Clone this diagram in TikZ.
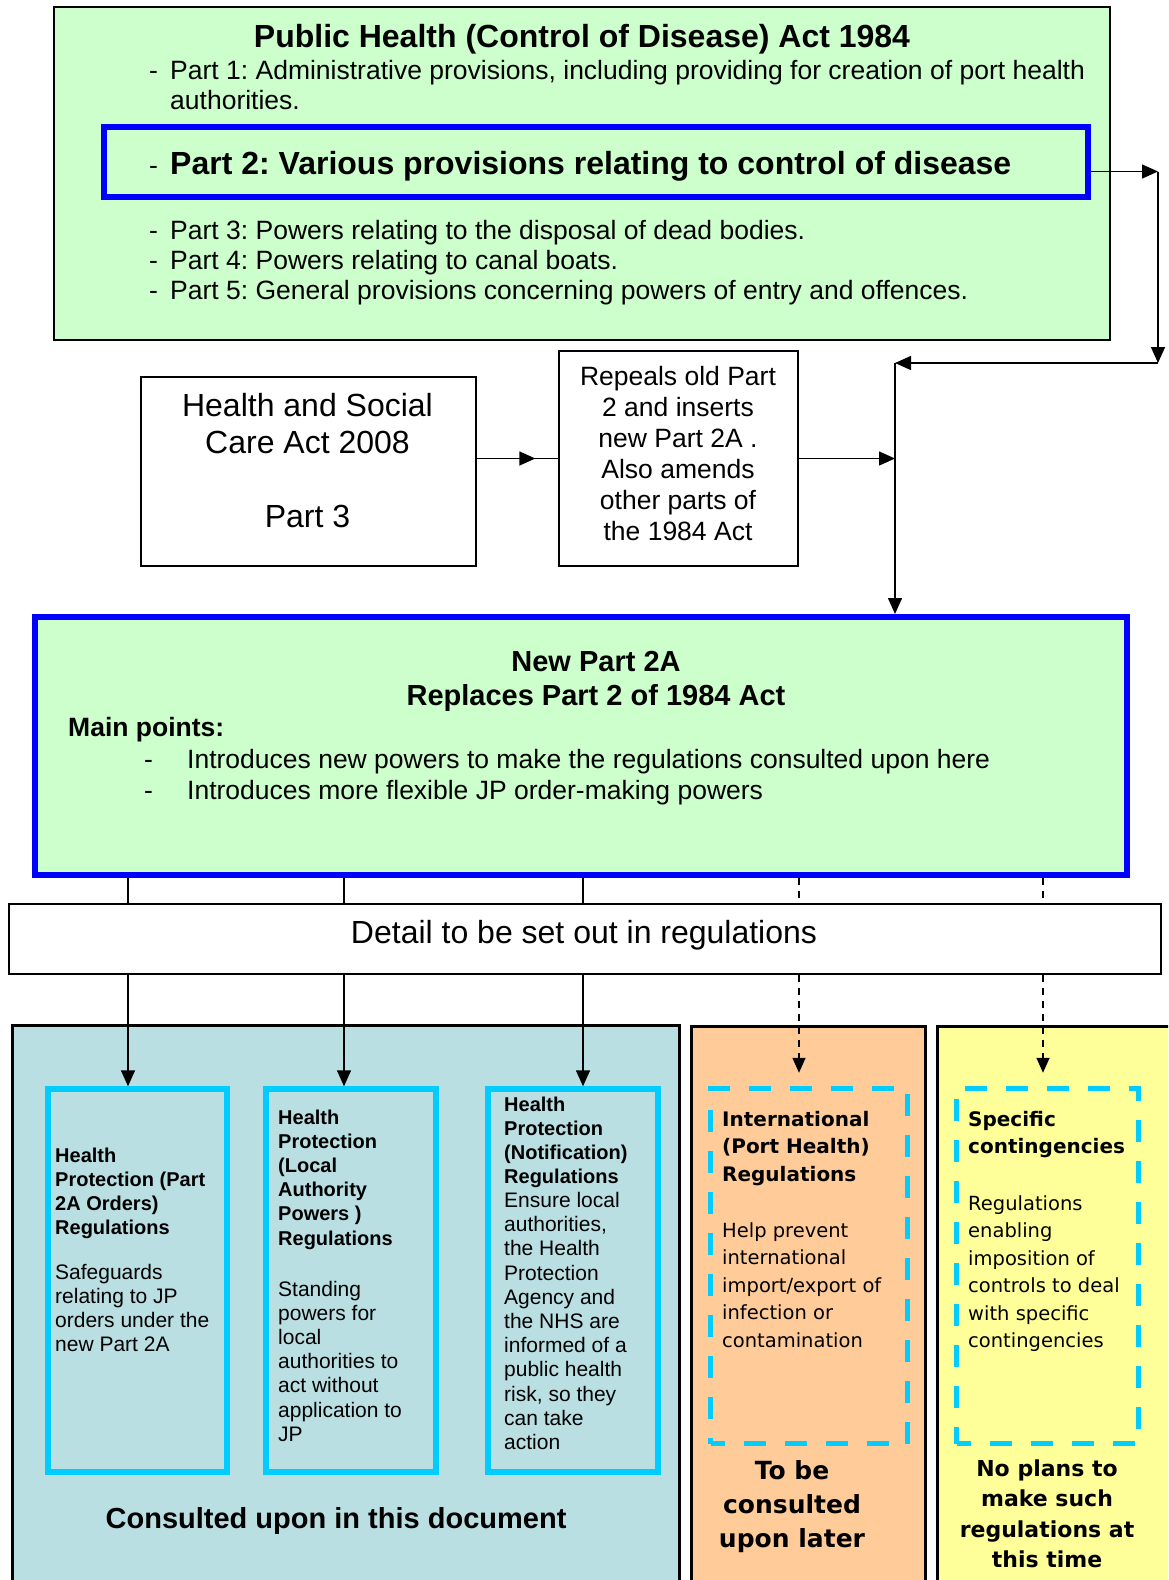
\documentclass[tikz,border=0pt]{standalone}
\usepackage{fontspec}
\setmainfont{Liberation Sans}
\newfontfamily\verdanafont{DejaVu Sans}
\usetikzlibrary{positioning,arrows.meta,calc}
\frenchspacing

\definecolor{actgreen}{RGB}{204,255,204}
\definecolor{partblue}{RGB}{0,0,255}
\definecolor{regcyan}{RGB}{0,204,255}
\definecolor{nowblue}{RGB}{185,223,227}
\definecolor{laterorange}{RGB}{255,204,153}
\definecolor{neveryellow}{RGB}{255,255,153}

\begin{document}
\begin{tikzpicture}[x=1pt,y=-1pt,
    box/.style={draw,line width=2pt,inner sep=0pt,anchor=north west},
    actbox/.style={box,line width=1.6pt,fill=actgreen},
    partbox/.style={box,draw=partblue,line width=6pt},
    plainbox/.style={box,fill=white},
    panel/.style={box,line width=2.5pt},
    regbox/.style={box,draw=regcyan,line width=6pt},
    futurebox/.style={regbox,line width=5pt,dash pattern=on 22pt off 19pt,dash phase=8pt},
    txt/.style={inner sep=0pt,anchor=base west,align=left},
    ctxt/.style={inner sep=0pt,anchor=base,align=center},
    acthead/.style={font=\bfseries\fontsize{32}{37}\selectfont},
    actbody/.style={font=\fontsize{26.5}{30}\selectfont},
    bigtext/.style={font=\fontsize{32}{37}\selectfont},
    midtext/.style={font=\fontsize{26.5}{31}\selectfont},
    newhead/.style={font=\bfseries\fontsize{29}{34}\selectfont},
    reghead/.style={font=\bfseries\fontsize{20}{24.2}\selectfont},
    regbody/.style={font=\fontsize{21}{24.2}\selectfont},
    vhead/.style={font=\verdanafont\bfseries\fontsize{20}{27.5}\selectfont},
    vbody/.style={font=\verdanafont\fontsize{19.5}{27.5}\selectfont},
    link/.style={line width=1.4pt},
    arr/.style={link,-{Triangle[length=16pt,width=14pt]}},
    dashlink/.style={link,dash pattern=on 7pt off 6pt},
    dasharr/.style={link,dash pattern=on 7pt off 6pt,-{Triangle[length=15pt,width=13pt]}}
  ]
  \useasboundingbox (0,0) rectangle (1168,1580);
  \clip (0,0) rectangle (1168,1580);
  \fill[white] (0,0) rectangle (1168,1580);

  % the 1984 Act (multi-line texts sit on the baseline of their last line)
  \node[actbox,minimum width=1056pt,minimum height=333pt] (act) at (53,6) {};
  \node[ctxt,acthead] (acttitle) at (582,47) {Public Health (Control of Disease) Act 1984};
  \node[txt,actbody] (dash1) at (149,79.5) {-};
  \node[txt,actbody] (part1) at (170,109.5) {Part 1: Administrative provisions, including providing for creation of port health\\authorities.};
  \node[partbox,minimum width=984.5pt,minimum height=70.5pt] (part2) at (100.5,123.5) {};
  \node[txt,actbody] (dash2) at (149,174.5) {-};
  \node[txt,acthead] (part2txt) at (170,174.5) {Part 2: Various provisions relating to control of disease};
  \foreach \y/\t [count=\i from 3] in {239.5/{Powers relating to the disposal of dead bodies.},
      269.5/{Powers relating to canal boats.},
      299.5/{General provisions concerning powers of entry and offences.}}{
    \node[txt,actbody] (dash\i) at (149,\y) {-};
    \node[txt,actbody] (part\i) at (170,\y) {Part \i: \t};
  }

  % 2008 Act
  \node[plainbox,minimum width=335pt,minimum height=189pt] (hsc) at (140,376) {};
  \node[ctxt,bigtext] (hsctxt) at (307.5,527) {Health and Social\\Care Act 2008\\[37pt]Part 3};
  \node[plainbox,minimum width=239pt,minimum height=215pt] (repeal) at (558,350) {};
  \node[ctxt,midtext] (repealtxt) at (678,540) {Repeals old Part\\2 and inserts\\new Part 2A .\\Also amends\\other parts of\\the 1984 Act};

  % new Part 2A
  \node[box,draw=partblue,line width=6.3pt,fill=actgreen,minimum width=1092pt,minimum height=258pt] (np2a) at (32,614) {};
  \node[ctxt,newhead] (np2atitle) at (596,705) {New Part 2A\\Replaces Part 2 of 1984 Act};
  \node[txt,font=\bfseries\fontsize{26.5}{31}\selectfont] (mainpts) at (68,736) {Main points:};
  \node[txt,actbody] (dash6) at (144,768) {-};
  \node[txt,actbody] (point1) at (187,768) {Introduces new powers to make the regulations consulted upon here};
  \node[txt,actbody] (dash7) at (144,799) {-};
  \node[txt,actbody] (point2) at (187,799) {Introduces more flexible JP order-making powers};

  \node[plainbox,minimum width=1152pt,minimum height=70pt] (detail) at (8,903) {};
  \node[ctxt,bigtext] (detailtxt) at (584,943) {Detail to be set out in regulations};

  % regulation panels
  \node[panel,fill=nowblue,minimum width=667pt,minimum height=600pt] (nowpanel) at (11,1024) {};
  \node[panel,fill=laterorange,minimum width=234pt,minimum height=600pt] (laterpanel) at (690,1025) {};
  \node[panel,fill=neveryellow,minimum width=260pt,minimum height=600pt] (neverpanel) at (936,1025) {};

  \node[regbox,minimum width=179.5pt,minimum height=383pt] (reg1) at (44.7,1086.3) {};
  \node[regbox,minimum width=170pt,minimum height=383pt] (reg2) at (263,1086.3) {};
  \node[regbox,minimum width=170pt,minimum height=383pt] (reg3) at (485,1086.3) {};
  \node[futurebox,minimum width=197pt,minimum height=355.5pt] (ihr) at (708.2,1085.8) {};
  \node[futurebox,minimum width=182pt,minimum height=355.5pt] (spec) at (954,1085.8) {};

  \node[txt,reghead] (reg1head) at (55,1234.6) {Health\\Protection (Part\\2A Orders)\\Regulations};
  \node[txt,regbody] (reg1body) at (55,1351.6) {Safeguards\\relating to JP\\orders under the\\new Part 2A};
  \node[txt,reghead] (reg2head) at (278,1245) {Health\\Protection\\(Local\\Authority\\Powers )\\Regulations};
  \node[txt,regbody] (reg2body) at (278,1441.2) {Standing\\powers for\\local\\authorities to\\act without\\application to\\JP};
  \node[txt,reghead] (reg3head) at (504,1183.6) {Health\\Protection\\(Notification)\\Regulations};
  \node[txt,regbody] (reg3body) at (504,1449.5) {Ensure local\\authorities,\\the Health\\Protection\\Agency and\\the NHS are\\informed of a\\public health\\risk, so they\\can take\\action};
  \node[ctxt,newhead] (nowtxt) at (336,1528) {Consulted upon in this document};

  \node[txt,vhead] (ihrhead) at (722,1181) {International\\(Port Health)\\Regulations};
  \node[txt,vbody] (ihrbody) at (722,1347) {Help prevent\\international\\import/export of\\infection or\\contamination};
  \node[ctxt,font=\verdanafont\bfseries\fontsize{25}{34}\selectfont] (latertxt) at (792,1547) {To be\\consulted\\upon later};

  \node[txt,vhead] (spechead) at (968,1153.5) {Specific\\contingencies};
  \node[txt,vbody] (specbody) at (968,1347.5) {Regulations\\enabling\\imposition of\\controls to deal\\with specific\\contingencies};
  \node[ctxt,font=\verdanafont\bfseries\fontsize{22}{30.5}\selectfont] (nevertxt) at (1047,1567.5) {No plans to\\make such\\regulations at\\this time};

  % connectors
  \coordinate (turn1) at (1158,171.5);
  \coordinate (turn2) at (1158,363);
  \coordinate (turn3) at (895,363);
  \draw[arr] (part2.east |- turn1) -- (turn1);
  \draw[arr] (turn1) -- (turn2);
  \draw[arr] (turn2) -- (turn3);
  \draw[arr] (turn3) -- (turn3 |- np2a.north);
  \draw[link] (hsc.east |- repeal.west) -- (repeal.west);
  \draw[arr] (hsc.east |- repeal.west) -- ($(hsc.east |- repeal.west)!0.72!(repeal.west)$);
  \draw[arr] (repeal.east) -- (repeal.east -| turn3);

  \foreach \i/\x in {1/128,2/344,3/583}{
    \coordinate (drop\i) at (\x,0);
    \draw[link] (drop\i |- np2a.south) -- (drop\i |- detail.north);
    \draw[arr] (drop\i |- detail.south) -- (drop\i |- reg\i.north);
  }
  \foreach \i/\x/\b in {4/799/ihr,5/1043/spec}{
    \coordinate (drop\i) at (\x,0);
    \draw[dashlink] (drop\i |- np2a.south) -- (drop\i |- detail.north);
    \draw[dasharr,shorten >=13pt] (drop\i |- detail.south) -- (drop\i |- \b.north);
  }
\end{tikzpicture}
\end{document}
